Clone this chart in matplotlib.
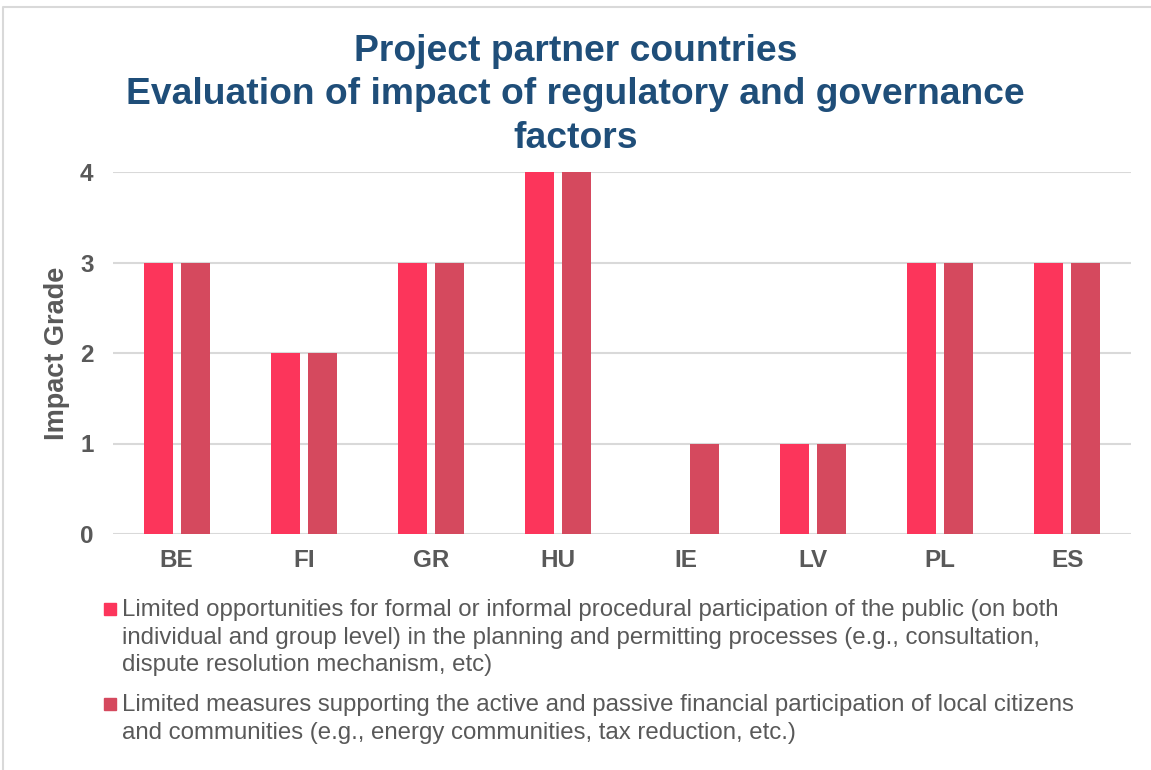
import matplotlib.pyplot as plt
from matplotlib.lines import Line2D
from matplotlib.patches import Rectangle
import numpy as np

# -----------------------------
# DATA
# -----------------------------
countries = ["BE", "FI", "GR", "HU", "IE", "LV", "PL", "ES"]
procedural = [3, 2, 3, 4, 0, 1, 3, 3]
financial = [3, 2, 3, 4, 1, 1, 3, 3]
legend_labels = [
    "Limited opportunities for formal or informal procedural participation of the public (on both\n"
    "individual and group level) in the planning and permitting processes (e.g., consultation,\n"
    "dispute resolution mechanism, etc)",
    "Limited measures supporting the active and passive financial participation of local citizens\n"
    "and communities (e.g., energy communities, tax reduction, etc.)",
]
title = "Project partner countries\nEvaluation of impact of regulatory and governance\nfactors"

# -----------------------------
# STYLE
# -----------------------------
plt.rcParams["font.family"] = ["Liberation Sans", "DejaVu Sans"]
col1 = "#FC355B"
col2 = "#D5495E"
grey = "#595959"
W, H = 1151, 770

fig = plt.figure(figsize=(W / 100, H / 100), dpi=100)
ax = fig.add_axes([113 / W, 1 - 534 / H, (1131 - 113) / W, (534 - 172) / H])

x = np.arange(len(countries))
bw = 0.228
off = 0.145
ax.bar(x - off, procedural, bw, color=col1)
ax.bar(x + off, financial, bw, color=col2)

ax.set_xlim(-0.5, len(countries) - 0.5)
ax.set_ylim(0, 4)
ax.set_yticks(range(5))
ax.set_xticks(x)
ax.set_xticklabels(countries)
ax.grid(axis="y", color="#D9D9D9", linewidth=1.5)
ax.set_axisbelow(True)
for s in ax.spines.values():
    s.set_visible(False)
ax.tick_params(length=0, labelsize=17.5, labelcolor=grey)
ax.tick_params(axis="x", pad=11)
ax.tick_params(axis="y", pad=14)
for lab in ax.get_xticklabels() + ax.get_yticklabels():
    lab.set_fontweight("bold")
ax.set_ylabel("Impact Grade", fontsize=19.5, fontweight="bold", color=grey)
ax.yaxis.set_label_coords((70 - 113) / (1131 - 113), 0.5)

fig.text(0.5, 1 - 95 / H, title, ha="center", va="center", fontsize=26.8,
         fontweight="bold", color="#1F4E79", linespacing=1.32)

# legend drawn by hand so the marker sits on the first line
legend_top = [599, 694]
for lab, c, y in zip(legend_labels, [col1, col2], legend_top):
    fig.patches.append(Rectangle((104 / W, 1 - (y + 16) / H), 12 / W, 12 / H,
                                 transform=fig.transFigure, color=c))
    fig.text(122 / W, 1 - y / H, lab, ha="left", va="top", fontsize=17.3,
             color=grey, linespacing=1.33)

# outer frame (only top and left edges visible in the original)
fig.add_artist(Line2D([3 / W, 3 / W, 1], [0, 1 - 7 / H, 1 - 7 / H],
                      transform=fig.transFigure, color="#D9D9D9", linewidth=1.5))

fig.savefig("out.png", dpi=100)
